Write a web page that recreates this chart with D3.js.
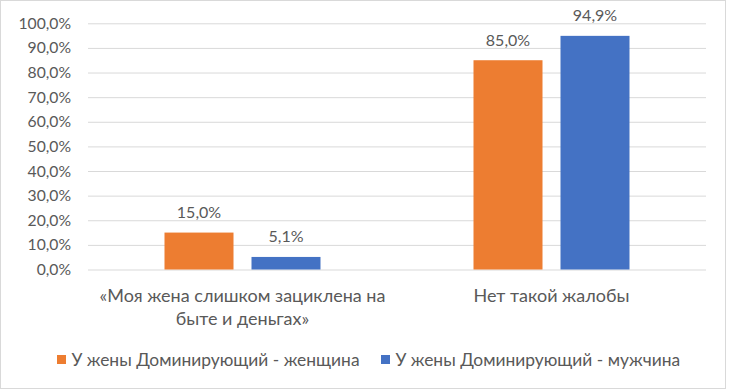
<!DOCTYPE html>
<html><head><meta charset="utf-8">
<script src="https://cdn.jsdelivr.net/npm/d3@7"></script>
<style>body{margin:0;background:#fff}svg{display:block}text{font-family:Lato,"Open Sans",sans-serif;fill:#595959}</style>
</head><body><svg id="c" width="730" height="391"></svg>
<script>
const categories = [["«Моя жена слишком зациклена на","быте и деньгах»"],["Нет такой жалобы"]];
const seriesNames = ["У жены Доминирующий - женщина","У жены Доминирующий - мужчина"];
const womanValues = [0.150, 0.850];
const manValues = [0.051, 0.949];
const tickValues = [0,0.1,0.2,0.3,0.4,0.5,0.6,0.7,0.8,0.9,1.0];
const colors = ["#ED7D31","#4472C4"];

const svg = d3.select("#c");
const fmt = v => d3.format(".1f")(v*100).replace(".", ",") + "%";
svg.append("rect").attr("x",0.5).attr("y",0.5).attr("width",725).attr("height",388)
  .attr("fill","#fff").attr("stroke","#d9d9d9");

const L=88,R=706,T=23.3,B=269.5;
const y = d3.scaleLinear().domain([0,1]).range([B,T]);
const x0 = d3.scaleBand().domain(d3.range(categories.length)).range([L,R]).paddingInner(0).paddingOuter(0);
const x1 = d3.scaleBand().domain([0,1]).range([0,156]).paddingInner(18/87).paddingOuter(0);
const groupOff = (x0.bandwidth()-156)/2;

const yAxis = svg.append("g").attr("transform",`translate(${L},0)`)
  .call(d3.axisLeft(y).tickValues(tickValues).tickSize(-(R-L)).tickPadding(17).tickFormat(fmt));
yAxis.select(".domain").remove();
yAxis.selectAll(".tick line").attr("stroke","#d9d9d9").attr("stroke-width",1);
yAxis.selectAll(".tick text").attr("font-size",15.7).attr("fill","#595959").style("font-family","Lato");

const series=[womanValues,manValues];
series.forEach((vals,si)=>{
  const g=svg.append("g");
  g.selectAll("rect").data(vals).join("rect")
    .attr("x",(d,i)=>x0(i)+groupOff+x1(si)).attr("width",x1.bandwidth())
    .attr("y",d=>y(d)).attr("height",d=>B-y(d)).attr("fill",colors[si]);
  g.selectAll("text").data(vals).join("text")
    .attr("x",(d,i)=>x0(i)+groupOff+x1(si)+x1.bandwidth()/2).attr("y",d=>y(d)-14.5)
    .attr("text-anchor","middle").attr("font-size",16).text(d=>fmt(d));
});

categories.forEach((lines,i)=>{
  const t=svg.append("text").attr("text-anchor","middle").attr("font-size",18)
    .attr("x",x0(i)+x0.bandwidth()/2).attr("y",302);
  lines.forEach((ln,j)=>t.append("tspan").attr("x",x0(i)+x0.bandwidth()/2).attr("dy",j?23:0).text(ln));
});

const legX=[57,381];
seriesNames.forEach((n,i)=>{
  svg.append("rect").attr("x",legX[i]).attr("y",355).attr("width",9).attr("height",9).attr("fill",colors[i]);
  svg.append("text").attr("x",legX[i]+14.5).attr("y",366).attr("font-size",17.4).text(n);
});
</script></body></html>
